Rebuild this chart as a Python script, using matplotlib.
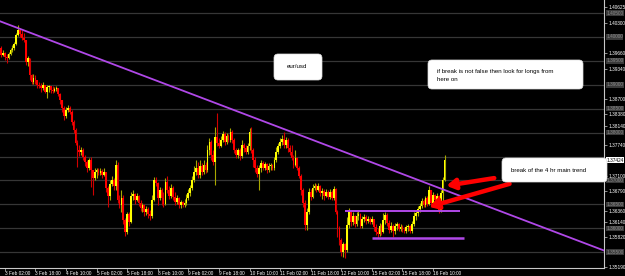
import matplotlib
matplotlib.use("Agg")
import matplotlib.pyplot as plt
import numpy as np
from matplotlib.patches import FancyBboxPatch
from matplotlib.transforms import IdentityTransform

plt.rcParams["font.family"] = ["Liberation Sans", "DejaVu Sans"]

# EUR/USD, 1 hour bars from 3 Feb 00:00 to 16 Feb 16:00 (weekend removed)
first_open = 1.3977
close = [
    1.3962, 1.3966, 1.3958, 1.3956, 1.3964, 1.3973, 1.3977, 1.3985, 1.4004, 1.4014,
    1.4006, 1.3998, 1.3993, 1.3947, 1.3956, 1.3920, 1.3906, 1.3914, 1.3910, 1.3899,
    1.3897, 1.3893, 1.3899, 1.3885, 1.3895, 1.3897, 1.3889, 1.3887, 1.3891, 1.3893,
    1.3880, 1.3868, 1.3851, 1.3835, 1.3847, 1.3851, 1.3843, 1.3822, 1.3805, 1.3778,
    1.3764, 1.3759, 1.3764, 1.3749, 1.3738, 1.3726, 1.3743, 1.3722, 1.3705, 1.3717,
    1.3722, 1.3715, 1.3720, 1.3711, 1.3717, 1.3684, 1.3667, 1.3692, 1.3701, 1.3688,
    1.3732, 1.3659, 1.3648, 1.3663, 1.3617, 1.3592, 1.3630, 1.3613, 1.3667, 1.3671,
    1.3659, 1.3667, 1.3653, 1.3642, 1.3648, 1.3634, 1.3640, 1.3630, 1.3626, 1.3659,
    1.3701, 1.3694, 1.3663, 1.3680, 1.3663, 1.3651, 1.3697, 1.3680, 1.3667, 1.3684,
    1.3665, 1.3655, 1.3663, 1.3648, 1.3655, 1.3648, 1.3653, 1.3663, 1.3674, 1.3684,
    1.3701, 1.3717, 1.3726, 1.3711, 1.3730, 1.3717, 1.3732, 1.3722, 1.3764, 1.3780,
    1.3753, 1.3738, 1.3791, 1.3778, 1.3772, 1.3784, 1.3797, 1.3780, 1.3793, 1.3784,
    1.3801, 1.3784, 1.3764, 1.3753, 1.3764, 1.3751, 1.3774, 1.3768, 1.3759, 1.3772,
    1.3801, 1.3764, 1.3743, 1.3726, 1.3713, 1.3726, 1.3736, 1.3726, 1.3734, 1.3722,
    1.3730, 1.3732, 1.3726, 1.3743, 1.3759, 1.3772, 1.3780, 1.3787, 1.3774, 1.3784,
    1.3768, 1.3759, 1.3747, 1.3732, 1.3747, 1.3726, 1.3709, 1.3680, 1.3653, 1.3607,
    1.3634, 1.3676, 1.3665, 1.3684, 1.3688, 1.3680, 1.3688, 1.3674, 1.3678, 1.3667,
    1.3676, 1.3665, 1.3676, 1.3663, 1.3682, 1.3634, 1.3600, 1.3575, 1.3550, 1.3567,
    1.3554, 1.3607, 1.3634, 1.3613, 1.3626, 1.3609, 1.3626, 1.3630, 1.3605, 1.3619,
    1.3623, 1.3615, 1.3619, 1.3613, 1.3619, 1.3603, 1.3592, 1.3588, 1.3605, 1.3592,
    1.3617, 1.3628, 1.3611, 1.3596, 1.3605, 1.3594, 1.3605, 1.3609, 1.3598, 1.3603,
    1.3596, 1.3594, 1.3603, 1.3605, 1.3594, 1.3609, 1.3626, 1.3632, 1.3640, 1.3646,
    1.3657, 1.3648, 1.3663, 1.3651, 1.3680, 1.3653, 1.3669, 1.3659, 1.3667, 1.3638,
    1.3674, 1.3701, 1.3742,
]
high = [
    1.3981, 1.3973, 1.3968, 1.3964, 1.3968, 1.3977, 1.3983, 1.3989, 1.4008, 1.4025,
    1.4019, 1.4014, 1.4008, 1.3993, 1.3960, 1.3956, 1.3922, 1.3922, 1.3920, 1.3910,
    1.3906, 1.3904, 1.3906, 1.3899, 1.3899, 1.3899, 1.3897, 1.3897, 1.3895, 1.3897,
    1.3893, 1.3883, 1.3868, 1.3855, 1.3853, 1.3857, 1.3855, 1.3847, 1.3826, 1.3810,
    1.3784, 1.3774, 1.3770, 1.3768, 1.3753, 1.3743, 1.3747, 1.3749, 1.3722, 1.3726,
    1.3726, 1.3726, 1.3726, 1.3724, 1.3726, 1.3717, 1.3688, 1.3701, 1.3709, 1.3705,
    1.3743, 1.3738, 1.3669, 1.3680, 1.3669, 1.3621, 1.3634, 1.3634, 1.3676, 1.3680,
    1.3674, 1.3674, 1.3669, 1.3659, 1.3653, 1.3651, 1.3646, 1.3644, 1.3638, 1.3669,
    1.3707, 1.3707, 1.3697, 1.3686, 1.3684, 1.3676, 1.3705, 1.3709, 1.3688, 1.3692,
    1.3688, 1.3676, 1.3669, 1.3665, 1.3659, 1.3657, 1.3661, 1.3671, 1.3682, 1.3690,
    1.3709, 1.3730, 1.3743, 1.3738, 1.3743, 1.3736, 1.3743, 1.3738, 1.3774, 1.3789,
    1.3784, 1.3764, 1.3812, 1.3841, 1.3789, 1.3793, 1.3803, 1.3801, 1.3799, 1.3797,
    1.3810, 1.3805, 1.3789, 1.3768, 1.3768, 1.3768, 1.3784, 1.3778, 1.3774, 1.3778,
    1.3810, 1.3812, 1.3768, 1.3749, 1.3732, 1.3732, 1.3743, 1.3740, 1.3738, 1.3736,
    1.3736, 1.3736, 1.3734, 1.3749, 1.3770, 1.3778, 1.3789, 1.3795, 1.3801, 1.3791,
    1.3789, 1.3774, 1.3774, 1.3753, 1.3764, 1.3749, 1.3730, 1.3713, 1.3684, 1.3659,
    1.3642, 1.3684, 1.3682, 1.3692, 1.3694, 1.3692, 1.3694, 1.3690, 1.3684, 1.3682,
    1.3682, 1.3680, 1.3682, 1.3680, 1.3688, 1.3684, 1.3638, 1.3605, 1.3580, 1.3571,
    1.3569, 1.3623, 1.3642, 1.3634, 1.3634, 1.3628, 1.3634, 1.3638, 1.3632, 1.3626,
    1.3630, 1.3628, 1.3626, 1.3623, 1.3626, 1.3619, 1.3609, 1.3600, 1.3611, 1.3609,
    1.3632, 1.3634, 1.3632, 1.3617, 1.3613, 1.3609, 1.3611, 1.3613, 1.3611, 1.3609,
    1.3607, 1.3603, 1.3607, 1.3609, 1.3607, 1.3615, 1.3634, 1.3638, 1.3646, 1.3653,
    1.3663, 1.3661, 1.3667, 1.3667, 1.3688, 1.3680, 1.3676, 1.3671, 1.3674, 1.3669,
    1.3680, 1.3707, 1.3753,
]
low = [
    1.3958, 1.3960, 1.3952, 1.3945, 1.3954, 1.3962, 1.3968, 1.3973, 1.3983, 1.4002,
    1.4000, 1.3993, 1.3989, 1.3941, 1.3939, 1.3910, 1.3901, 1.3901, 1.3901, 1.3893,
    1.3893, 1.3885, 1.3889, 1.3883, 1.3872, 1.3885, 1.3883, 1.3883, 1.3885, 1.3887,
    1.3876, 1.3860, 1.3843, 1.3826, 1.3830, 1.3843, 1.3839, 1.3816, 1.3799, 1.3774,
    1.3728, 1.3751, 1.3753, 1.3743, 1.3730, 1.3717, 1.3722, 1.3686, 1.3669, 1.3701,
    1.3705, 1.3711, 1.3711, 1.3705, 1.3709, 1.3676, 1.3644, 1.3659, 1.3688, 1.3680,
    1.3680, 1.3653, 1.3642, 1.3634, 1.3609, 1.3584, 1.3588, 1.3605, 1.3611, 1.3659,
    1.3651, 1.3657, 1.3646, 1.3636, 1.3634, 1.3626, 1.3628, 1.3621, 1.3617, 1.3621,
    1.3657, 1.3688, 1.3648, 1.3659, 1.3648, 1.3644, 1.3648, 1.3674, 1.3661, 1.3663,
    1.3659, 1.3648, 1.3651, 1.3642, 1.3642, 1.3644, 1.3644, 1.3648, 1.3659, 1.3667,
    1.3680, 1.3697, 1.3711, 1.3705, 1.3705, 1.3711, 1.3713, 1.3715, 1.3717, 1.3753,
    1.3743, 1.3732, 1.3690, 1.3772, 1.3768, 1.3770, 1.3780, 1.3774, 1.3776, 1.3780,
    1.3780, 1.3778, 1.3757, 1.3747, 1.3747, 1.3743, 1.3747, 1.3759, 1.3755, 1.3755,
    1.3764, 1.3757, 1.3728, 1.3717, 1.3707, 1.3680, 1.3717, 1.3722, 1.3722, 1.3715,
    1.3717, 1.3722, 1.3722, 1.3722, 1.3738, 1.3755, 1.3768, 1.3774, 1.3768, 1.3768,
    1.3759, 1.3753, 1.3743, 1.3726, 1.3730, 1.3722, 1.3705, 1.3669, 1.3644, 1.3596,
    1.3596, 1.3630, 1.3659, 1.3663, 1.3680, 1.3676, 1.3678, 1.3667, 1.3661, 1.3659,
    1.3665, 1.3661, 1.3661, 1.3659, 1.3659, 1.3630, 1.3582, 1.3565, 1.3542, 1.3540,
    1.3538, 1.3550, 1.3600, 1.3605, 1.3607, 1.3603, 1.3605, 1.3617, 1.3600, 1.3600,
    1.3613, 1.3609, 1.3611, 1.3609, 1.3609, 1.3594, 1.3586, 1.3580, 1.3584, 1.3586,
    1.3590, 1.3609, 1.3605, 1.3590, 1.3592, 1.3582, 1.3588, 1.3596, 1.3594, 1.3594,
    1.3592, 1.3590, 1.3590, 1.3594, 1.3590, 1.3590, 1.3605, 1.3617, 1.3626, 1.3634,
    1.3642, 1.3644, 1.3644, 1.3646, 1.3648, 1.3644, 1.3648, 1.3651, 1.3653, 1.3632,
    1.3634, 1.3653, 1.3699,
]

tick_bars = [2, 18, 34, 50, 66, 82, 98, 114, 130, 146, 162, 178, 194, 210, 226]
tick_labels = [
    "3 Feb 02:00", "3 Feb 18:00", "4 Feb 10:00", "5 Feb 02:00", "5 Feb 18:00",
    "8 Feb 10:00", "9 Feb 02:00", "9 Feb 18:00", "10 Feb 10:00", "11 Feb 02:00",
    "11 Feb 18:00", "12 Feb 10:00", "15 Feb 02:00", "15 Feb 18:00", "16 Feb 10:00",
]
price_ticks = [
    1.40625, 1.40300, 1.39660, 1.39340, 1.38700, 1.38380, 1.38140,
    1.37740, 1.37100, 1.36790, 1.36360, 1.36140, 1.35820, 1.35190,
]
round_levels = [1.405, 1.400, 1.395, 1.390, 1.385, 1.380, 1.370, 1.365, 1.360, 1.355]
last_price = 1.37424

# user drawn objects
trend_bars = [0, 300]
trend_prices = [1.4032, 1.3577]
range_top, range_top_bars = 1.3636, (180, 240)
range_bottom, range_bottom_bars = 1.3580, (194, 242)
arrow_tails = [(258, 1.3705), (266, 1.3693)]
arrow_heads = [(233, 1.3689), (224, 1.3645)]

UP, DOWN = "#ffff00", "#ff0000"
UP_WICK, DOWN_WICK = "#a8a800", "#d00000"
VIOLET = "#b048e8"
W, H = 625, 276

fig = plt.figure(figsize=(W / 100, H / 100), dpi=100)
fig.patch.set_facecolor("black")
ax = fig.add_axes([0, 8 / H, 604 / W, 268 / H])
ax.set_facecolor("black")
ax.set_xlim(-0.5, 315.4)
ax.set_ylim(1.35171, 1.40772)

for lvl in round_levels + [1.375]:
    ax.axhline(lvl, color="#363636", lw=0.9, zorder=1)

c = np.array(close)
o = np.r_[first_open, c[:-1]]
hi, lo = np.array(high), np.array(low)
idx = np.arange(len(c))
up = c >= o
body = np.where(np.abs(c - o) < 0.00006, 0.00006, np.abs(c - o))

ax.vlines(idx[up], lo[up], hi[up], color=UP_WICK, lw=0.8, zorder=2)
ax.vlines(idx[~up], lo[~up], hi[~up], color=DOWN_WICK, lw=0.8, zorder=2)
ax.bar(idx[up], body[up], bottom=np.minimum(o, c)[up], width=0.9, color=UP, lw=0, zorder=3)
ax.bar(idx[~up], body[~up], bottom=np.minimum(o, c)[~up], width=0.9, color=DOWN, lw=0, zorder=3)

ax.axline((trend_bars[0], trend_prices[0]), (trend_bars[1], trend_prices[1]),
          color=VIOLET, lw=1.3, zorder=4)
ax.hlines(range_top, *range_top_bars, color=VIOLET, lw=1.4, zorder=4)
ax.hlines(range_bottom, *range_bottom_bars, color=VIOLET, lw=1.8, zorder=4)

for tail, head in zip(arrow_tails, arrow_heads):
    ax.annotate("", xy=head, xytext=tail,
                arrowprops=dict(arrowstyle="-|>,head_length=0.5,head_width=0.3",
                                color="#ff0000", lw=3.2, shrinkA=0, shrinkB=0,
                                mutation_scale=10),
                zorder=5)

# axes like the terminal window
for side in ("top", "left"):
    ax.spines[side].set_visible(False)
for side in ("right", "bottom"):
    ax.spines[side].set_color("#c8c8c8")
    ax.spines[side].set_linewidth(0.8)

ax.yaxis.tick_right()
ax.set_yticks(price_ticks)
ax.set_yticklabels([f"{v:.5f}" for v in price_ticks])
ax.set_xticks(tick_bars)
ax.set_xticklabels(tick_labels, ha="left")
ax.tick_params(colors="#c8c8c8", labelcolor="white", labelsize=3.4,
               length=2, width=0.5, pad=1)
ax.tick_params(axis="x", pad=0.5)

yt = ax.get_yaxis_transform()
for lvl in round_levels:
    ax.text(1.004, lvl, f"{lvl:.5f}", transform=yt, fontsize=3.4, color="#8c8c8c",
            va="center", ha="left", clip_on=False, zorder=6,
            bbox=dict(fc="#3a3a3a", ec="none", pad=0.2))
ax.text(1.004, last_price, f"{last_price:.5f}", transform=yt, fontsize=3.4, color="black",
        va="center", ha="left", clip_on=False, zorder=7,
        bbox=dict(fc="white", ec="none", pad=0.3))


def note(x0, y0, x1, y1, lines, tx, ty, size=4.4):
    """White rounded box drawn in image pixels (origin top-left)."""
    box = FancyBboxPatch((x0, H - y1), x1 - x0, y1 - y0,
                         boxstyle="round,pad=0,rounding_size=4",
                         fc="white", ec="#dddddd", lw=0.5,
                         transform=IdentityTransform(), zorder=10)
    fig.patches.append(box)
    fig.text(tx / W, 1 - ty / H, lines, fontsize=size, color="black",
             ha="left", va="center", linespacing=1.6, zorder=11)


note(274, 54, 322, 80, "eur/usd", 287, 67)
note(428, 60, 583, 89, "if break is not false then look for longs from\nhere on", 437, 75.5)
note(502, 158, 607, 182, "break of the 4 hr main trend", 511, 170)

fig.savefig("out.png", dpi=100, facecolor=fig.get_facecolor())
